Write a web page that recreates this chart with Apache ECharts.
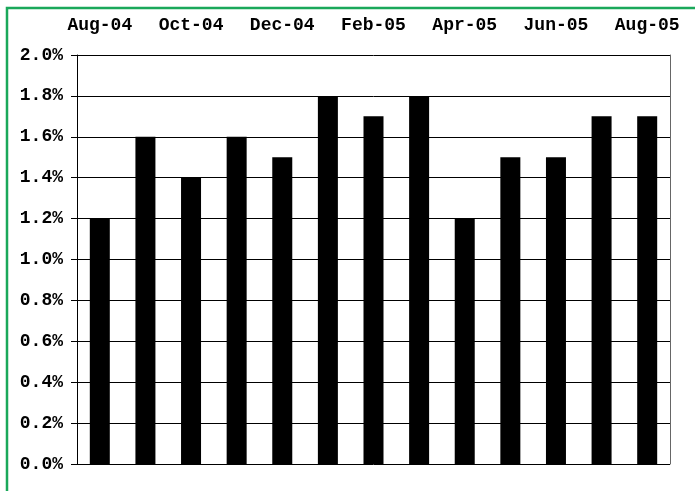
<!DOCTYPE html>
<html>
<head>
<meta charset="utf-8">
<script src="https://cdn.jsdelivr.net/npm/echarts@6/dist/echarts.min.js"></script>
<style>
  html, body { margin: 0; padding: 0; background: #fff; }
  #chart { width: 695px; height: 491px; }
</style>
</head>
<body>
<div id="chart"></div>
<script>
// monthly values, percent
const months = ['Aug-04', 'Sep-04', 'Oct-04', 'Nov-04', 'Dec-04', 'Jan-05', 'Feb-05',
    'Mar-05', 'Apr-05', 'May-05', 'Jun-05', 'Jul-05', 'Aug-05'];
const rates = [1.2, 1.6, 1.4, 1.6, 1.5, 1.8, 1.7, 1.8, 1.2, 1.5, 1.5, 1.7, 1.7];

const FONT = '"Liberation Mono", "Courier New", monospace';

const chart = echarts.init(document.getElementById('chart'));

chart.setOption({
    animation: false,
    graphic: [{
        type: 'rect',
        shape: { x: 7, y: 8, width: 720, height: 520 },
        style: { fill: 'none', stroke: '#1aa85a', lineWidth: 2.5 },
    }],
    grid: { left: 77, right: 25, top: 55, bottom: 27 },
    xAxis: {
        type: 'category',
        position: 'top',
        data: months,
        axisLine: { show: false },
        axisTick: { show: false },
        axisLabel: {
            interval: 1,
            margin: 21,
            color: '#000',
            fontFamily: FONT,
            fontWeight: 'bold',
            fontSize: 18,
        },
    },
    yAxis: [{
        type: 'value',
        min: 0,
        max: 2,
        interval: 0.2,
        axisLine: { show: true, lineStyle: { color: '#000', width: 1 } },
        axisTick: { show: true, length: 6, lineStyle: { color: '#000' } },
        splitLine: { show: true, lineStyle: { color: '#000', width: 1 } },
        axisLabel: {
            margin: 14,
            color: '#000',
            fontFamily: FONT,
            fontWeight: 'bold',
            fontSize: 18,
            formatter: v => v.toFixed(1) + '%',
        },
    }, {
        type: 'value',
        position: 'right',
        min: 0,
        max: 2,
        interval: 0.2,
        axisLine: { show: true, lineStyle: { color: '#666', width: 1 } },
        axisTick: { show: false },
        axisLabel: { show: false },
        splitLine: { show: false },
    }],
    series: [{
        type: 'bar',
        data: rates,
        barWidth: 20,
        itemStyle: { color: '#000' },
    }],
});
</script>
</body>
</html>
